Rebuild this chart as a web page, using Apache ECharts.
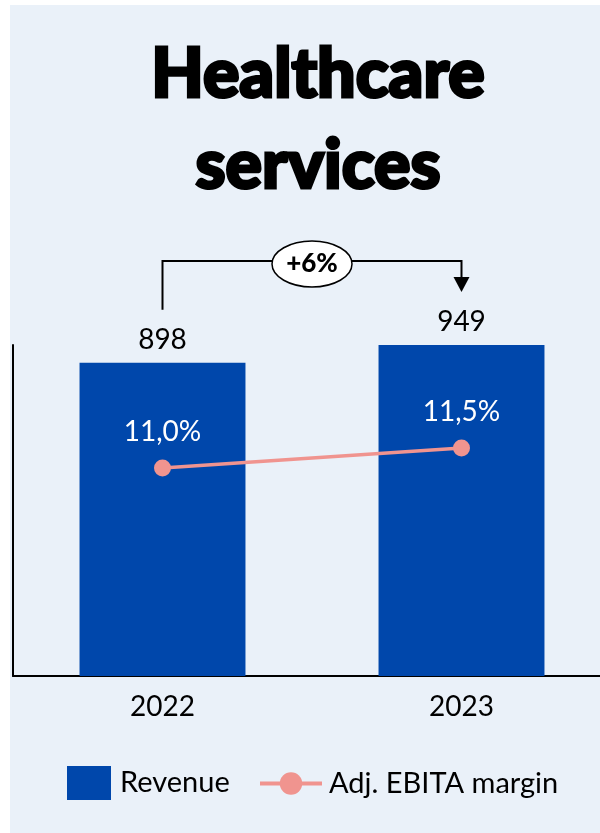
<!DOCTYPE html>
<html>
<head>
<meta charset="utf-8">
<script src="https://cdn.jsdelivr.net/npm/echarts@6/dist/echarts.min.js"></script>
<style>
  html, body { margin: 0; padding: 0; background: #ffffff; }
  #chart { width: 600px; height: 833px; }
</style>
</head>
<body>
<div id="chart"></div>
<script>
// Healthcare services: revenue bars with adjusted EBITA margin line
const years = ['2022', '2023'];
const revenue = [898, 949];
const ebitaMargin = [11.0, 11.5];
const titleLines = ['Healthcare', 'services'];

const FONT = 'Lato, "Open Sans", sans-serif';
const BAR_COLOR = '#0047AB';
const LINE_COLOR = '#F0948F';

const chart = echarts.init(document.getElementById('chart'), null, { renderer: 'canvas' });

const option = {
  backgroundColor: '#ffffff',
  animation: false,
  title: {
    text: titleLines.join('\n'),
    left: 313,
    top: 25,
    textAlign: 'center',
    textStyle: {
      fontFamily: FONT,
      fontWeight: 900,
      fontSize: 68,
      lineHeight: 91,
      color: '#000000',
      textBorderColor: '#000000',
      textBorderWidth: 3
    }
  },
  grid: { left: 13, top: 345, width: 598, height: 331, outerBoundsMode: 'none', containLabel: false },
  legend: [
    {
      data: [{ name: 'Revenue', icon: 'rect' }],
      left: 62,
      top: 761,
      itemWidth: 44,
      itemHeight: 34,
      itemGap: 10,
      textStyle: { fontFamily: FONT, fontSize: 29, color: '#000000', padding: [0, 0, 0, 4] }
    },
    {
      data: ['Adj. EBITA margin'],
      left: 253,
      top: 764,
      itemWidth: 62,
      itemHeight: 28,
      lineStyle: { width: 4 },
      textStyle: { fontFamily: FONT, fontSize: 29, color: '#000000', padding: [0, 0, 0, 2] }
    }
  ],
  xAxis: {
    type: 'category',
    data: years,
    axisLine: { lineStyle: { color: '#000000', width: 2 } },
    axisTick: { show: false },
    axisLabel: { fontFamily: FONT, fontSize: 28, color: '#000000', margin: 17 }
  },
  yAxis: [
    {
      type: 'value',
      min: 0,
      max: 949,
      axisLine: { show: true, lineStyle: { color: '#000000', width: 2 } },
      axisTick: { show: false },
      axisLabel: { show: false },
      splitLine: { show: false }
    },
    {
      type: 'value',
      min: 5.8,
      max: 14.075,
      show: false,
      splitLine: { show: false }
    }
  ],
  series: [
    {
      name: 'Revenue',
      type: 'bar',
      data: revenue,
      barWidth: '55.5%',
      itemStyle: { color: BAR_COLOR },
      label: {
        show: true,
        position: 'top',
        distance: 9,
        fontFamily: FONT,
        fontSize: 28,
        color: '#000000'
      }
    },
    {
      name: 'Adj. EBITA margin',
      type: 'line',
      yAxisIndex: 1,
      data: ebitaMargin,
      symbol: 'circle',
      symbolSize: 17,
      lineStyle: { color: LINE_COLOR, width: 3.5 },
      itemStyle: { color: LINE_COLOR },
      label: {
        show: true,
        position: 'top',
        distance: 14,
        fontFamily: FONT,
        fontSize: 28,
        color: '#ffffff',
        formatter: p => p.value.toFixed(1).replace('.', ',') + '%'
      }
    }
  ]
};

chart.setOption(option);

// Growth bracket between the two bars, placed from the bar values
const p0 = chart.convertToPixel({ xAxisIndex: 0, yAxisIndex: 0 }, [0, revenue[0]]);
const p1 = chart.convertToPixel({ xAxisIndex: 0, yAxisIndex: 0 }, [1, revenue[1]]);
const gap = 53;
const bracketY = 261;
const growth = Math.round((revenue[1] / revenue[0] - 1) * 100);
const tipY = p1[1] - gap;
const midX = (p0[0] + p1[0]) / 2;

chart.setOption({
  graphic: [
    {
      type: 'rect',
      z: -10,
      silent: true,
      shape: { x: 10, y: 5, width: 600, height: 840 },
      style: { fill: '#EAF1F9' }
    },
    {
      type: 'polyline',
      z: 10,
      shape: {
        points: [
          [p0[0], p0[1] - gap],
          [p0[0], bracketY],
          [p1[0], bracketY],
          [p1[0], tipY - 14]
        ]
      },
      style: { stroke: '#000000', lineWidth: 2, fill: null }
    },
    {
      type: 'polygon',
      z: 10,
      shape: {
        points: [
          [p1[0] - 8, tipY - 15],
          [p1[0] + 8, tipY - 15],
          [p1[0], tipY]
        ]
      },
      style: { fill: '#000000' }
    },
    {
      type: 'ellipse',
      z: 11,
      shape: { cx: midX, cy: bracketY + 3, rx: 40, ry: 23 },
      style: { fill: '#ffffff', stroke: '#000000', lineWidth: 1.5 }
    },
    {
      type: 'text',
      z: 12,
      x: midX,
      y: bracketY + 3,
      style: {
        text: '+' + growth + '%',
        fontFamily: FONT,
        fontWeight: 900,
        fontSize: 26,
        fill: '#000000',
        align: 'center',
        verticalAlign: 'middle'
      }
    }
  ]
});
</script>
</body>
</html>
